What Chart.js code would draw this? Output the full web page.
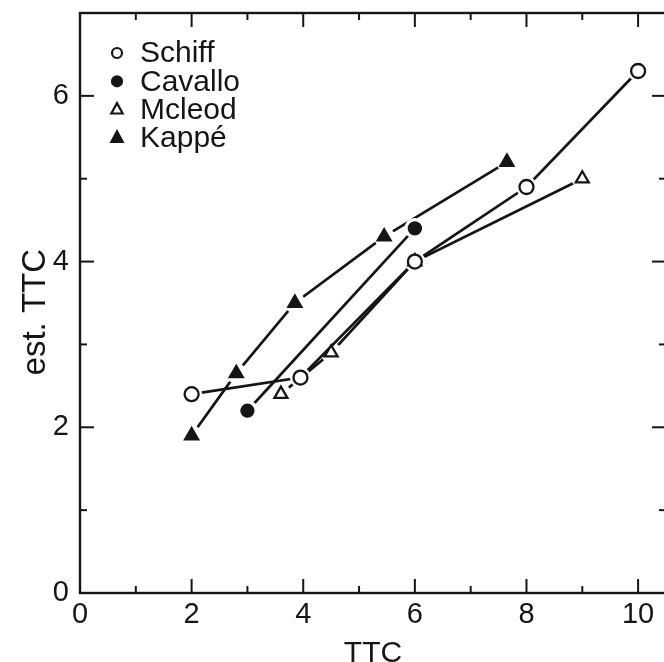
<!DOCTYPE html>
<html>
<head>
<meta charset="utf-8">
<script src="https://cdn.jsdelivr.net/npm/chart.js@4.4.0/dist/chart.umd.min.js"></script>
<style>
  html, body { margin: 0; padding: 0; overflow: hidden; background: #fff; width: 664px; height: 662px; }
  #wrap { position: absolute; left: 0; top: 0; width: 690px; height: 662px; }
</style>
</head>
<body>
<div id="wrap"><canvas id="c" width="690" height="662"></canvas></div>
<script>
// ---- data ----
const seriesNames = ['Schiff', 'Cavallo', 'Mcleod', 'Kappé'];
const schiffX  = [2, 3.95, 6, 8, 10];
const schiffY  = [2.4, 2.6, 4.0, 4.9, 6.3];
const cavalloX = [3, 6];
const cavalloY = [2.2, 4.4];
const mcleodX  = [3.6, 4.5, 6, 9];
const mcleodY  = [2.4, 2.9, 4.0, 5.0];
const kappeX   = [2, 2.8, 3.85, 5.45, 7.65];
const kappeY   = [1.9, 2.65, 3.5, 4.3, 5.2];
const xTickLabels = [0, 2, 4, 6, 8, 10];
const yTickLabels = [0, 2, 4, 6];
const xTitle = 'TTC';
const yTitle = 'est. TTC';

// ---- styles ----
const INK = '#151515';
const FONT = "'Liberation Sans', Arial, Helvetica, sans-serif";
const styles = [
  { pointStyle: 'circle',   fill: '#ffffff', radius: 7 },
  { pointStyle: 'circle',   fill: INK,       radius: 6 },
  { pointStyle: 'triangle', fill: '#ffffff', radius: 7.5 },
  { pointStyle: 'triangle', fill: INK,       radius: 7.5 }
];
const xsAll = [schiffX, cavalloX, mcleodX, kappeX];
const ysAll = [schiffY, cavalloY, mcleodY, kappeY];

function pts(xs, ys) { return xs.map((v, i) => ({ x: v, y: ys[i] })); }

const datasets = [];
seriesNames.forEach((name, i) => {
  const d = pts(xsAll[i], ysAll[i]);
  datasets.push({
    label: name + ' line', data: d, showLine: true,
    borderColor: INK, borderWidth: 2.7, tension: 0,
    pointRadius: 10.5, pointStyle: 'circle',
    pointBackgroundColor: '#ffffff', pointBorderWidth: 0, pointBorderColor: 'rgba(0,0,0,0)',
    order: 2
  });
  datasets.push({
    label: name, data: d, showLine: false,
    pointStyle: styles[i].pointStyle, pointRadius: styles[i].radius,
    pointBackgroundColor: styles[i].fill, pointBorderColor: INK, pointBorderWidth: 2.3,
    order: 1
  });
});

const framePlugin = {
  id: 'frame',
  afterDatasetsDraw(chart) {
    const { ctx, chartArea: a, scales: { x, y } } = chart;
    ctx.save();
    ctx.strokeStyle = INK;
    ctx.lineWidth = 2.4;
    ctx.strokeRect(a.left, a.top, a.right - a.left, a.bottom - a.top);
    ctx.lineWidth = 2;
    const seg = (x1, y1, x2, y2) => { ctx.beginPath(); ctx.moveTo(x1, y1); ctx.lineTo(x2, y2); ctx.stroke(); };
    x.ticks.forEach(t => {
      const px = x.getPixelForValue(t.value);
      const len = (t.value % 2 === 0) ? 14 : 7;
      seg(px, a.bottom, px, a.bottom - len);
      seg(px, a.top, px, a.top + len);
    });
    y.ticks.forEach(t => {
      const py = y.getPixelForValue(t.value);
      const len = (t.value % 2 === 0) ? 14 : 7;
      seg(a.left, py, a.left + len, py);
      seg(a.right, py, a.right - len, py);
    });
    ctx.restore();
  }
};

const legendPlugin = {
  id: 'innerLegend',
  afterDraw(chart) {
    const { ctx, chartArea: a } = chart;
    const mx = a.left + 37, tx = a.left + 60, y0 = a.top + 40, row = 28.3;
    ctx.save();
    ctx.font = '30px ' + FONT;
    ctx.textBaseline = 'middle';
    ctx.textAlign = 'left';
    seriesNames.forEach((name, i) => {
      const cy = y0 + i * row;
      const st = styles[i];
      ctx.fillStyle = st.fill;
      ctx.strokeStyle = INK;
      ctx.lineWidth = 2.2;
      ctx.beginPath();
      if (st.pointStyle === 'circle') {
        ctx.arc(mx, cy, 5, 0, Math.PI * 2);
      } else {
        const r = 6.5;
        ctx.moveTo(mx, cy - r);
        ctx.lineTo(mx + r * 0.87, cy + r * 0.6);
        ctx.lineTo(mx - r * 0.87, cy + r * 0.6);
        ctx.closePath();
      }
      ctx.fill();
      ctx.stroke();
      ctx.fillStyle = INK;
      ctx.fillText(name, tx, cy + 1);
    });
    ctx.restore();
  }
};

new Chart(document.getElementById('c'), {
  type: 'scatter',
  data: { datasets },
  options: {
    responsive: false,
    animation: false,
    events: [],
    layout: { padding: { top: 13, right: 24, left: 0, bottom: 0 } },
    plugins: { legend: { display: false }, tooltip: { enabled: false } },
    scales: {
      x: {
        type: 'linear', min: 0, max: 10.5,
        afterFit: s => { s.height = 69; s.paddingLeft = 0; s.paddingRight = 0; },
        border: { display: false },
        grid: { display: false, drawTicks: false, drawOnChartArea: false },
        ticks: {
          stepSize: 1, includeBounds: false, autoSkip: false, maxRotation: 0,
          color: INK, padding: 5, font: { family: FONT, size: 29 },
          callback: v => xTickLabels.includes(v) ? String(v) : ''
        },
        title: { display: true, text: xTitle, color: INK, font: { family: FONT, size: 30 }, padding: { top: 0, bottom: -10 } }
      },
      y: {
        type: 'linear', min: 0, max: 7,
        afterFit: s => { s.width = 80; s.paddingTop = 0; s.paddingBottom = 0; },
        border: { display: false },
        grid: { display: false, drawTicks: false, drawOnChartArea: false },
        ticks: {
          stepSize: 1, includeBounds: false, autoSkip: false,
          color: INK, padding: 11, font: { family: FONT, size: 29 },
          callback: v => yTickLabels.includes(v) ? String(v) : ''
        },
        title: { display: true, text: yTitle + '\u00A0\u00A0', color: INK, font: { family: FONT, size: 33 }, padding: { top: 16, bottom: 0 } }
      }
    }
  },
  plugins: [framePlugin, legendPlugin]
});
</script>
</body>
</html>
